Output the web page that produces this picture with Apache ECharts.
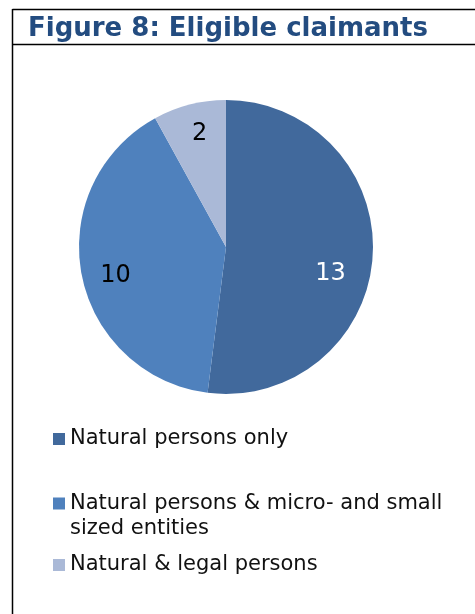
<!DOCTYPE html>
<html><head><meta charset="utf-8">
<script src="https://cdn.jsdelivr.net/npm/echarts@6/dist/echarts.min.js"></script>
<style>html,body{margin:0;padding:0;background:#fff}#c{width:475px;height:614px}</style>
</head><body><div id="c"></div>
<script>
const titleText = 'Figure 8: Eligible claimants';
const categories = ['Natural persons only', 'Natural persons & micro- and small sized entities', 'Natural & legal persons'];
const legendLabels = ['Natural persons only', '\nNatural persons & micro- and small\nsized entities', 'Natural & legal persons'];
const values = [13, 10, 2];
const colors = ['#41699C', '#4F81BD', '#AAB9D7'];
const labelColors = ['#ffffff', '#000000', '#000000'];
const labelOffsets = [[-13, 19], [5, 7], [3, 1]];

const chart = echarts.init(document.getElementById('c'), null, {renderer: 'canvas'});
const R = 147;
const data = categories.map((n, i) => ({name: n, value: values[i], itemStyle: {color: colors[i]}}));
const labelData = categories.map((n, i) => ({
  name: n, value: values[i],
  label: {color: labelColors[i], offset: labelOffsets[i]}
}));
const legendTops = [427, 466, 553];
const legends = categories.map((n, i) => ({
  data: [n], left: 53, top: legendTops[i], orient: 'vertical', padding: 0,
  icon: 'rect', itemWidth: 12, itemHeight: 12,
  selectedMode: false,
  formatter: () => legendLabels[i],
  textStyle: {fontFamily: 'DejaVu Sans', fontSize: 21, color: '#111', lineHeight: i === 1 ? 25 : 24}
}));
chart.setOption({
  animation: false,
  graphic: [
    {type: 'line', shape: {x1: 12.5, y1: 9.5, x2: 475, y2: 9.5}, style: {stroke: '#000', lineWidth: 1.5}},
    {type: 'line', shape: {x1: 12.5, y1: 44.5, x2: 475, y2: 44.5}, style: {stroke: '#000', lineWidth: 1.5}},
    {type: 'line', shape: {x1: 12.5, y1: 9, x2: 12.5, y2: 614}, style: {stroke: '#000', lineWidth: 1.5}}
  ],
  title: {text: titleText, left: 23, top: 11, textStyle: {fontFamily: 'DejaVu Sans', fontWeight: 'bold', fontSize: 26, color: '#234C80'}},
  legend: legends,
  series: [
    {type: 'pie', radius: [0, R], center: [226, 247], startAngle: 90, clockwise: true,
     label: {show: false}, labelLine: {show: false}, data: data, silent: true},
    {type: 'pie', radius: [R * 0.56, R], center: [226, 247], startAngle: 90, clockwise: true,
     itemStyle: {color: 'rgba(0,0,0,0)'}, silent: true, legendHoverLink: false,
     label: {show: true, position: 'inside', formatter: '{c}', fontFamily: 'DejaVu Sans', fontSize: 24},
     labelLine: {show: false}, data: labelData}
  ]
});
</script></body></html>
